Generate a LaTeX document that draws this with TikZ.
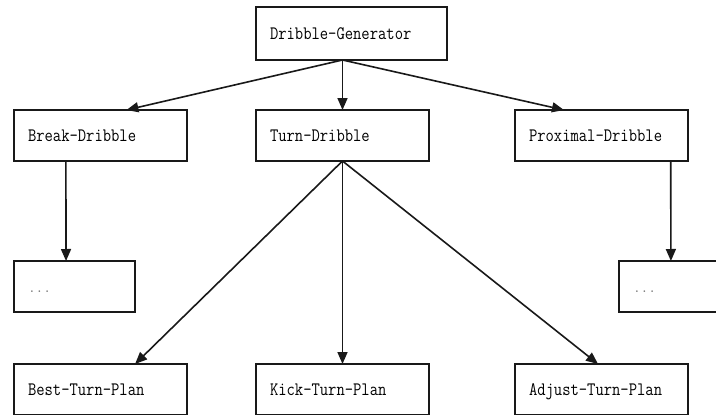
\documentclass[tikz,border=0pt]{standalone}
\usetikzlibrary{arrows.meta,calc}
\newcommand{\lbltxt}[1]{\scalebox{0.85}[1]{#1}}
\begin{document}
\begin{tikzpicture}[x=1pt,y=-1pt,
  box/.style={draw=black!90,line width=1.6pt,rectangle,anchor=north west,outer sep=0pt,
    inner xsep=14pt,inner ysep=0pt,align=left,text width=145pt,minimum height=51pt,
    text height=12pt,text depth=0pt,font=\fontsize{19}{22}\selectfont\ttfamily},
  dotbox/.style={box,font=\fontsize{15}{18}\selectfont\ttfamily,text=black!55},
  arr/.style={draw=black!90,line width=1.6pt,-{Triangle[length=12pt,width=10pt]}}]
\useasboundingbox (0,0) rectangle (716,415);
\clip (0,0) rectangle (716,415);
\node[box,text width=163pt,minimum height=53pt] (dg) at (256,7) {\lbltxt{Dribble-Generator}};
\node[box] (bd) at (14,110) {\lbltxt{Break-Dribble}};
\node[box] (td) at (256,110) {\lbltxt{Turn-Dribble}};
\node[box] (pd) at (515,110) {\lbltxt{Proximal-Dribble}};
\node[dotbox,text width=93pt] (d1) at (14,261) {...};
\node[dotbox] (d2) at (619,261) {...};
\node[box] (bp) at (14,364) {\lbltxt{Best-Turn-Plan}};
\node[box] (kp) at (256,364) {\lbltxt{Kick-Turn-Plan}};
\node[box] (ap) at (515,364) {\lbltxt{Adjust-Turn-Plan}};
\coordinate (dgs) at (td.north |- dg.south);
\draw[arr] (dgs) -- ($(bd.north west)!0.65!(bd.north east)$);
\draw[arr] (dgs) -- (td.north);
\draw[arr] (dgs) -- ($(pd.north west)!0.283!(pd.north east)$);
\draw[arr] (td.south) -- ($(bp.north west)!0.70!(bp.north east)$);
\draw[arr] (td.south) -- (kp.north);
\draw[arr] (td.south) -- ($(ap.north west)!0.48!(ap.north east)$);
\draw[arr] ($(bd.south west)!0.3!(bd.south east)$) -- ($(d1.north west)!0.43!(d1.north east)$);
\draw[arr] ($(pd.south west)!0.9!(pd.south east)$) -- ($(d2.north west)!0.30!(d2.north east)$);
\end{tikzpicture}
\end{document}
